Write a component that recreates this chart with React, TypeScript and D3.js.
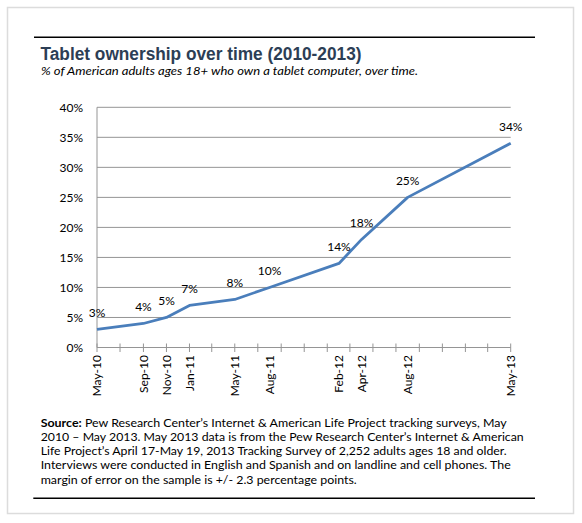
import React from "react";
import * as d3 from "d3";

const monthLabels = ["May-10", "Sep-10", "Nov-10", "Jan-11", "May-11", "Aug-11", "Feb-12", "Apr-12", "Aug-12", "May-13"];
const ownershipPct = [3, 4, 5, 7, 8, 10, 14, 18, 25, 34];
const yTickValues = [0, 5, 10, 15, 20, 25, 30, 35, 40];
const titleText = "Tablet ownership over time (2010-2013)";
const subtitleText = "% of American adults ages 18+ who own a tablet computer, over time.";
const sourceLines = [
  "Pew Research Center\u2019s Internet & American Life Project tracking surveys, May",
  "2010 \u2013 May 2013. May 2013 data is from the Pew Research Center\u2019s Internet & American",
  "Life Project\u2019s April 17-May 19, 2013 Tracking Survey of 2,252 adults ages 18 and older.",
  "Interviews were conducted in English and Spanish and on landline and cell phones. The",
  "margin of error on the sample is +/- 2.3 percentage points.",
];
const sourceWidths = [466, 483, 466, 470, 316];

const parse = d3.timeParse("%b-%y");

export default function App() {
  const W = 582, H = 523;
  const x0 = 97, x1 = 510.7, yTop = 107.3, yBot = 347.5;
  const dates = monthLabels.map((m) => parse(m) as Date);
  const x = d3.scaleTime().domain([dates[0], dates[dates.length - 1]]).range([x0, x1]);
  const y = d3.scaleLinear().domain([0, 40]).range([yBot, yTop]);
  const ticks = d3.timeMonth.every(2)!.range(dates[0], d3.timeDay.offset(dates[dates.length - 1], 1));
  const line = d3.line<number>().x((_, i) => x(dates[i])).y((v) => y(v));
  const font = "Lato, 'Noto Sans', sans-serif";

  return (
    <svg width={W} height={H} style={{ position: "absolute", left: 0, top: 0, background: "#fff" }} fontFamily={font}>
      <defs>
        <clipPath id="subclip">
          <rect x={0} y={60} width={W} height={17} />
        </clipPath>
      </defs>
      <rect x={7.5} y={7.5} width={566} height={506} fill="#fff" stroke="#dcdcdc" strokeWidth={1.5} />
      <line x1={34} x2={535} y1={37.3} y2={37.3} stroke="#000" strokeWidth={1.5} />
      <text x={40.5} y={60} fontFamily="'Liberation Sans', Arial, sans-serif" fontWeight="bold" fontSize={17.5} fill="#2c3e55" textLength={321} lengthAdjust="spacingAndGlyphs">
        {titleText}
      </text>
      <text x={41} y={75.3} fontSize={12} fontStyle="italic" fill="#000" textLength={377} lengthAdjust="spacingAndGlyphs" clipPath="url(#subclip)">
        {subtitleText}
      </text>

      {/* gridlines */}
      {yTickValues.map((t) => (
        <g key={t}>
          {t > 0 && <line x1={x0} x2={x1} y1={y(t)} y2={y(t)} stroke="#959595" strokeWidth={1} />}
          <text x={83} y={y(t)} dy="0.35em" textAnchor="end" fontSize={12} fill="#000">
            {t}%
          </text>
        </g>
      ))}
      {/* axes */}
      <line x1={x0} x2={x0} y1={yTop} y2={yBot} stroke="#959595" strokeWidth={1} />
      <line x1={x0} x2={x1} y1={yBot} y2={yBot} stroke="#959595" strokeWidth={1.2} />
      {ticks.map((t, i) => (
        <line key={i} x1={x(t)} x2={x(t)} y1={yBot - 4} y2={yBot + 4.5} stroke="#959595" strokeWidth={1} />
      ))}
      {dates.map((d, i) => (
        <text
          key={monthLabels[i]}
          transform={`translate(${x(d)},${355}) rotate(-90)`}
          dy="0.35em"
          textAnchor="end"
          fontSize={12}
          fill="#000"
        >
          {monthLabels[i]}
        </text>
      ))}

      <path d={line(ownershipPct) || ""} fill="none" stroke="#4a7ebb" strokeWidth={2.8} strokeLinejoin="round" />
      {ownershipPct.map((v, i) => (
        <text key={i} x={x(dates[i])} y={y(v) - 16.7} dy="0.35em" textAnchor="middle" fontSize={12} fill="#000">
          {v}%
        </text>
      ))}

      {sourceLines.map((l, i) => (
        <text key={i} x={40.7} y={426.7 + i * 14.2} fontSize={12} fill="#000" textLength={sourceWidths[i]} lengthAdjust="spacingAndGlyphs">
          {i === 0 && <tspan fontWeight="bold">Source:</tspan>}
          {i === 0 ? " " + l : l}
        </text>
      ))}
      <line x1={33.3} x2={535} y1={498.3} y2={498.3} stroke="#000" strokeWidth={1.5} />
    </svg>
  );
}
